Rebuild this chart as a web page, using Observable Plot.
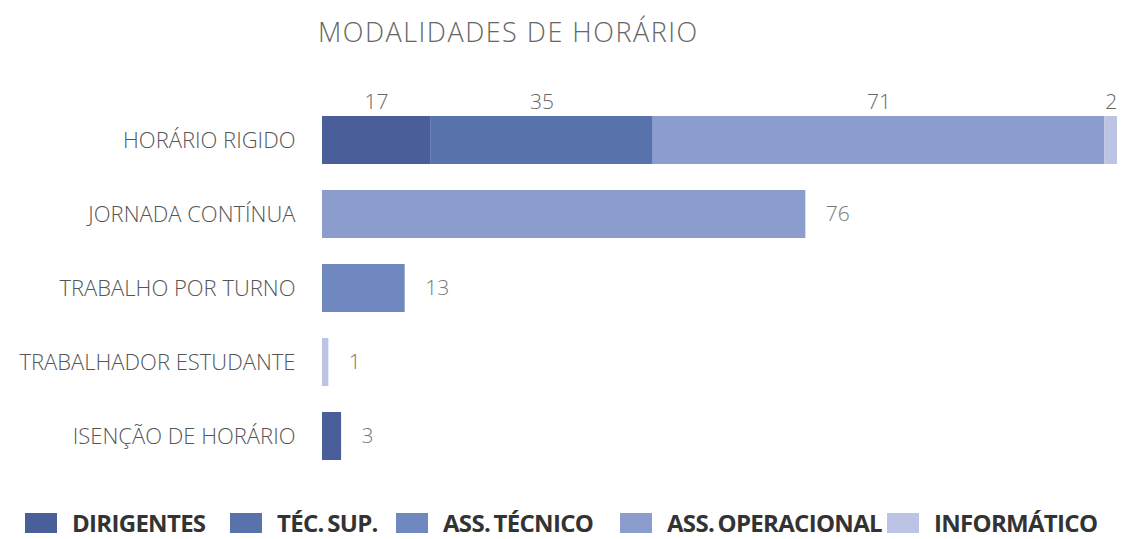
<!DOCTYPE html>
<html>
<head>
<meta charset="utf-8">
<script src="https://cdn.jsdelivr.net/npm/d3@7"></script>
<script src="https://cdn.jsdelivr.net/npm/@observablehq/plot@0.6"></script>
<style>
  html, body { margin: 0; padding: 0; background: #fff; }
  body { width: 1124px; height: 539px; overflow: hidden; font-family: "Open Sans", sans-serif; }
  #title { height: 60px; box-sizing: border-box; padding: 14px 0 0 318px; font-size: 27px; font-weight: 300; color: #666; letter-spacing: 1.5px; line-height: 36px; }
  #legend { position: relative; height: 39px; }
  .item { position: absolute; top: 9px; display: flex; align-items: center; }
  .sw { width: 32px; height: 20px; margin-right: 15px; }
  .lab { font-size: 24px; font-weight: 700; color: #333; letter-spacing: -0.7px; word-spacing: -2px; line-height: 28px; }
  svg { display: block; }
</style>
</head>
<body>
<div id="title">MODALIDADES DE HORÁRIO</div>
<div id="chart"></div>
<div id="legend"></div>
<script>
const modalidades = ["HORÁRIO RIGIDO", "JORNADA CONTÍNUA", "TRABALHO POR TURNO", "TRABALHADOR ESTUDANTE", "ISENÇÃO DE HORÁRIO"];
const categorias = ["DIRIGENTES", "TÉC. SUP.", "ASS. TÉCNICO", "ASS. OPERACIONAL", "INFORMÁTICO"];
const cores = ["#4a5f99", "#5872ab", "#7088c0", "#8b9dcc", "#bcc3e4"];
const dirigentes     = [17, 0, 0, 0, 3];
const tecSup         = [35, 0, 0, 0, 0];
const assTecnico     = [0, 0, 13, 0, 0];
const assOperacional = [71, 76, 0, 0, 0];
const informatico    = [2, 0, 0, 1, 0];
const legendX = [25, 230, 396, 620, 887];

const series = [dirigentes, tecSup, assTecnico, assOperacional, informatico];
const data = [];
modalidades.forEach((m, i) => {
  categorias.forEach((c, j) => {
    if (series[j][i] > 0) data.push({mod: m, cat: c, value: series[j][i]});
  });
});
const totals = modalidades.map((m, i) => ({mod: m, total: series.reduce((s, a) => s + a[i], 0)}));
const first = modalidades[0];

const chart = Plot.plot({
  width: 1124,
  height: 440,
  marginLeft: 322,
  marginRight: 7,
  marginTop: 28.5,
  marginBottom: 12.5,
  style: {fontFamily: "'Open Sans', sans-serif", background: "transparent"},
  x: {domain: [0, 125], axis: null},
  y: {domain: modalidades, padding: 0.356, label: null},
  color: {domain: categorias, range: cores},
  marks: [
    Plot.axisY({tickSize: 0, tickPadding: 27, fontSize: 22, fontWeight: 300, fill: "#555", label: null}),
    Plot.barX(data, Plot.stackX({x: "value", y: "mod", fill: "cat", z: "cat", order: categorias})),
    Plot.text(data.filter(d => d.mod === first), Plot.stackX({x: "value", y: "mod", z: "cat", order: categorias, text: d => String(d.value), dy: -38, fontSize: 21, fontWeight: 300, fill: "#666"})),
    Plot.text(totals.filter(d => d.mod !== first), {x: "total", y: "mod", text: d => String(d.total), dx: 20, textAnchor: "start", fontSize: 21, fontWeight: 300, fill: "#777"})
  ]
});
document.getElementById("chart").appendChild(chart);

const legend = document.getElementById("legend");
categorias.forEach((c, j) => {
  const it = document.createElement("div");
  it.className = "item";
  it.style.left = legendX[j] + "px";
  const sw = document.createElement("div");
  sw.className = "sw";
  sw.style.background = cores[j];
  const lab = document.createElement("div");
  lab.className = "lab";
  lab.textContent = c;
  it.appendChild(sw);
  it.appendChild(lab);
  legend.appendChild(it);
});
</script>
</body>
</html>
